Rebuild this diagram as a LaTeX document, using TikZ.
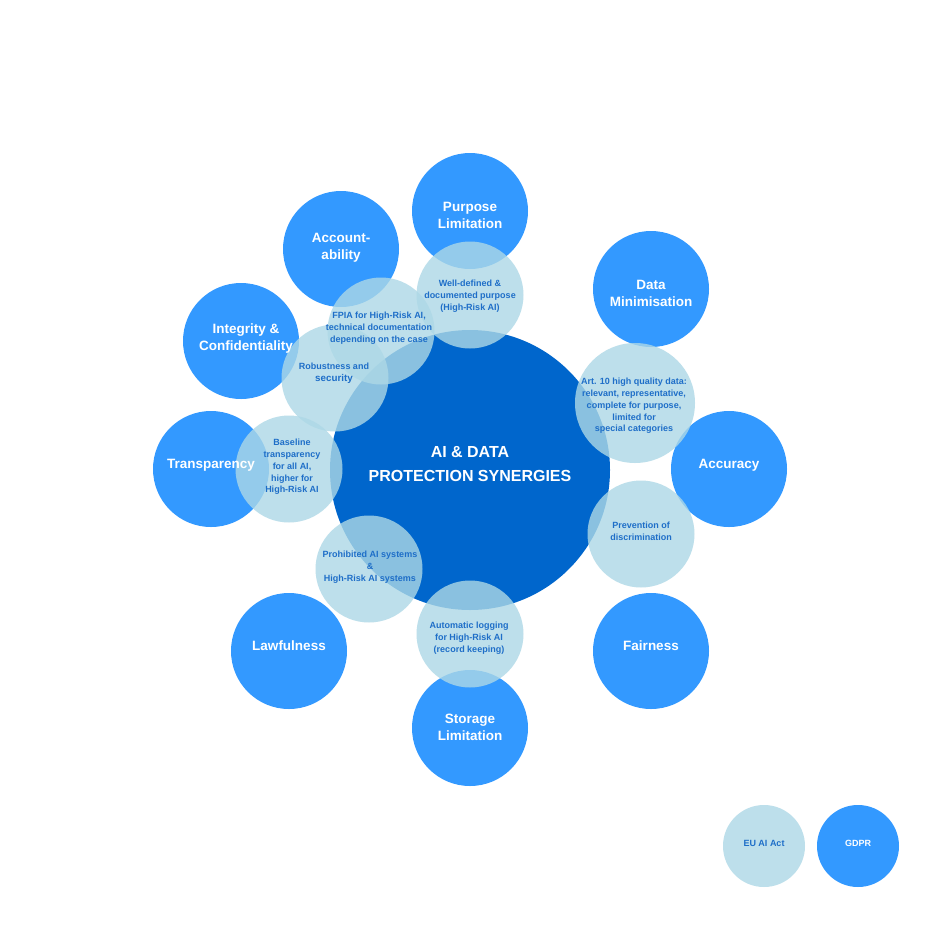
\documentclass[tikz,border=0pt]{standalone}
\usepackage{fontspec}
\setmainfont{Liberation Sans}
\definecolor{gdpr}{HTML}{3399FF}
\definecolor{core}{HTML}{0066CC}
\definecolor{aiact}{HTML}{ADD8E6}
\definecolor{aitext}{RGB}{30,110,200}
\tikzset{
  gdprc/.style={circle, fill=gdpr, minimum size=116pt, inner sep=0pt},
  aic/.style={circle, fill=aiact, fill opacity=0.8, minimum size=#1, inner sep=0pt},
  aic/.default=107pt,
  gdprt/.style={text=white, font=\fontsize{13.5}{17}\selectfont\bfseries, align=center, inner sep=0pt},
  ait/.style={text=aitext, font=\fontsize{9}{11.8}\selectfont\bfseries, align=center, inner sep=0pt},
  coret/.style={text=white, font=\fontsize{16}{24}\selectfont\bfseries, align=center, inner sep=0pt},
}
\begin{document}
\begin{tikzpicture}[x=1pt,y=-1pt]
\fill[white] (0,0) rectangle (940,940);
\useasboundingbox (0,0) rectangle (940,940);
% GDPR circles
\node[gdprc] (pl) at (470,211) {};
\node[gdprc] (dm) at (651,289) {};
\node[gdprc] (acc) at (729,469) {};
\node[gdprc] (fair) at (651,651) {};
\node[gdprc] (stor) at (470,728) {};
\node[gdprc] (law) at (289,651) {};
\node[gdprc] (trans) at (211,469) {};
\node[gdprc] (integ) at (241,341) {};
\node[gdprc] (acct) at (341,249) {};
% core
\node[circle, fill=core, minimum size=280pt, inner sep=0pt] (core) at (470,470) {};
% EU AI Act circles
\node[aic] (wd) at (470,295) {};
\node[aic] (fpia) at (381,331) {};
\node[aic] (rob) at (335,378) {};
\node[aic] (base) at (289,469) {};
\node[aic] (proh) at (369,569) {};
\node[aic] (log) at (470,634) {};
\node[aic] (prev) at (641,534) {};
\node[aic=120pt] (art) at (635,403) {};
% legend
\node[aic=82pt] (legai) at (764,846) {};
\node[circle, fill=gdpr, minimum size=82pt, inner sep=0pt] (leggd) at (858,846) {};
% GDPR texts
\node[gdprt] (tpl) at (470,215) {Purpose\\Limitation};
\node[gdprt] (tdm) at (651,293) {Data\\Minimisation};
\node[gdprt] (tacc) at (729,465) {Accuracy};
\node[gdprt] (tfair) at (651,646) {Fairness};
\node[gdprt] (tstor) at (470,727) {Storage\\Limitation};
\node[gdprt] (tlaw) at (289,646) {Lawfulness};
\node[gdprt] (ttrans) at (211,465) {Transparency};
\node[gdprt] (tinteg) at (246,339) {Integrity \&\\Confidentiality};
\node[gdprt] (tacct) at (341,248) {Account-\\ability};
% core text
\node[coret] (tcore) at (470,464) {AI \& DATA\\PROTECTION SYNERGIES};
% EU AI Act texts
\node[ait] (twd) at (470,296) {Well-defined \&\\documented purpose\\(High-Risk AI)};
\node[ait] (tfpia) at (379,328) {FPIA for High-Risk AI,\\technical documentation\\depending on the case};
\node[ait] (trob) at (334,373) {Robustness and\\{\fontsize{9.8}{12}\selectfont security}};
\node[ait] (tbase) at (292,467) {Baseline\\transparency\\for all AI,\\higher for\\High-Risk AI};
\node[ait] (tart) at (634,406) {Art. 10 high quality data:\\relevant, representative,\\complete for purpose,\\limited for\\special categories};
\node[ait] (tprev) at (641,531) {Prevention of\\discrimination};
\node[ait] (tproh) at (370,567) {Prohibited AI systems\\\&\\High-Risk AI systems};
\node[ait] (tlog) at (469,638) {Automatic logging\\for High-Risk AI\\(record keeping)};
% legend texts
\node[ait] (tlegai) at (764,843) {EU AI Act};
\node[gdprt, font=\fontsize{9}{11}\selectfont\bfseries] (tleggd) at (858,843) {GDPR};
\end{tikzpicture}
\end{document}
